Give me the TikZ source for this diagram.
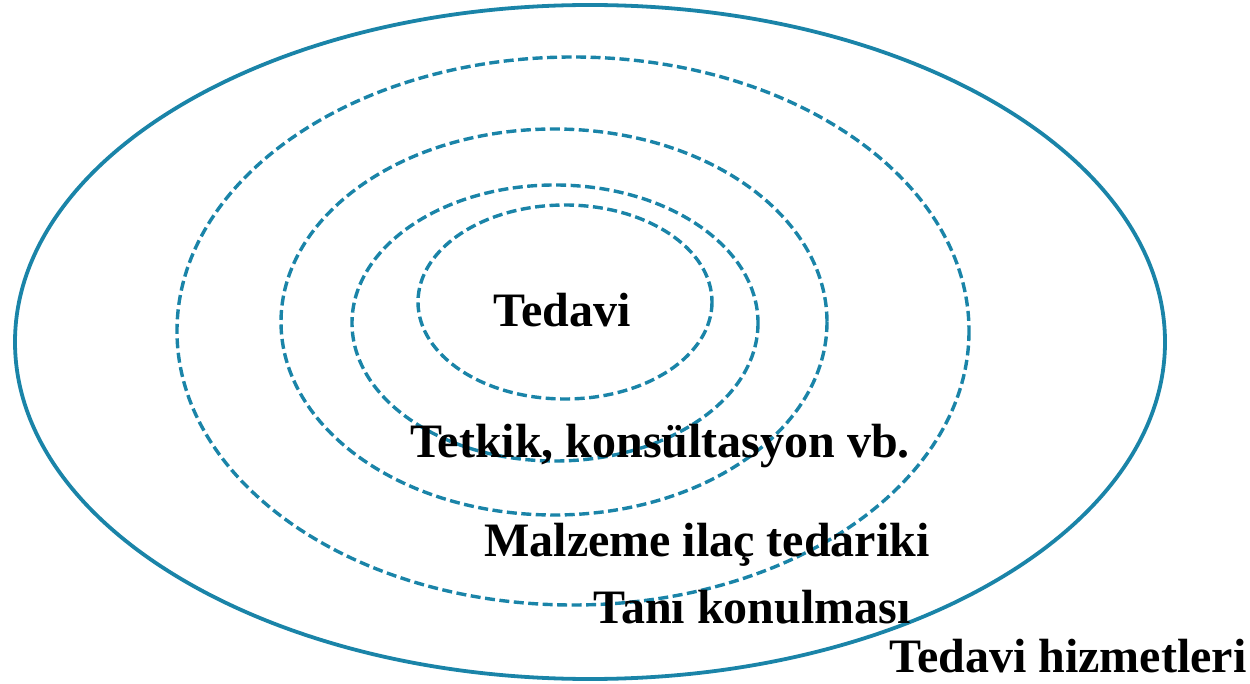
\documentclass[tikz,border=0pt]{standalone}
\usepackage{fontspec}
\setmainfont{Liberation Serif}
\definecolor{ringblue}{HTML}{1A84A8}
\begin{document}
\begin{tikzpicture}[x=1pt,y=-1pt,
  ring/.style={draw=ringblue,line width=3.8pt},
  dashring/.style={draw=ringblue,line width=3.4pt,dash pattern=on 10pt off 4.5pt},
  lbl/.style={font=\fontsize{48}{52}\selectfont\bfseries,anchor=base,inner sep=0pt}]
\useasboundingbox (0,0) rectangle (1250,684);
\draw[ring] (590,342) ellipse [x radius=575,y radius=337];
\draw[dashring] (573,331) ellipse [x radius=396,y radius=274];
\draw[dashring] (554,322) ellipse [x radius=273,y radius=193];
\draw[dashring] (555,323) ellipse [x radius=203,y radius=138];
\draw[dashring] (565,302) ellipse [x radius=147,y radius=97];
\node[lbl] (tedavi) at (562,327) {Tedavi};
\node[lbl] (tetkik) at (660,457) {Tetkik, konsültasyon vb.};
\node[lbl] (malzeme) at (707,556) {Malzeme ilaç tedariki};
\node[lbl] (tani) at (752,623) {Tanı konulması};
\node[lbl] (hizmet) at (1068,672) {Tedavi hizmetleri};
\end{tikzpicture}
\end{document}
